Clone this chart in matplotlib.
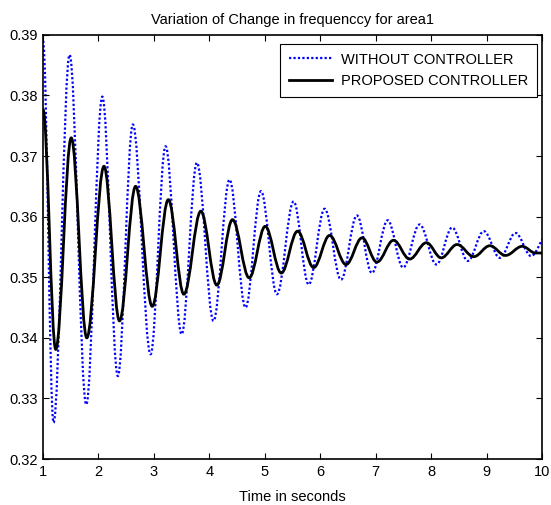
#!/usr/bin/env python3

import numpy as np
from matplotlib import pyplot as plt
from matplotlib.path import Path
from matplotlib.patches import PathPatch
from matplotlib.lines import Line2D

# * Data (peaks and troughs)

# Without controller (blue dotted)
blue_t = [1.00, 1.19, 1.48, 1.78, 2.07, 2.35, 2.62, 2.94, 3.21, 3.50, 3.775,
          4.074, 4.363, 4.652, 4.93, 5.218, 5.518, 5.79, 6.078, 6.373, 6.66,
          6.93, 7.215, 7.493, 7.79, 8.094, 8.377, 8.66, 8.948, 9.237, 9.52,
          9.80, 10.09]
blue_v = [0.389, 0.326, 0.3867, 0.329, 0.3798, 0.3337, 0.3752, 0.3373, 0.3716,
          0.3406, 0.3689, 0.3428, 0.3661, 0.3450, 0.3642, 0.3472, 0.3625,
          0.3488, 0.3613, 0.3496, 0.3602, 0.3507, 0.3594, 0.3516, 0.3587,
          0.3521, 0.3582, 0.3527, 0.3576, 0.3532, 0.3573, 0.3535, 0.3570]

# Proposed controller (black solid)
black_t = [1.00, 1.23, 1.51, 1.79, 2.10, 2.38, 2.67, 2.97, 3.26, 3.54, 3.846,
           4.135, 4.417, 4.718, 5.007, 5.296, 5.59, 5.88, 6.168, 6.464, 6.753,
           7.02, 7.32, 7.61, 7.913, 8.18, 8.467, 8.767, 9.056, 9.34, 9.64,
           9.88, 10.0]
black_v = [0.3777, 0.3381, 0.373, 0.340, 0.3683, 0.3428, 0.365, 0.3452,
           0.3628, 0.3472, 0.3609, 0.3487, 0.3595, 0.3499, 0.3584, 0.3507,
           0.3576, 0.3516, 0.3569, 0.3521, 0.3565, 0.3525, 0.3561, 0.3530,
           0.3557, 0.3532, 0.3554, 0.3534, 0.3552, 0.3536, 0.3551, 0.3540,
           0.3540]

labels = ['WITHOUT CONTROLLER', 'PROPOSED CONTROLLER']
xticks = list(range(1, 11))
yticks = [0.32, 0.33, 0.34, 0.35, 0.36, 0.37, 0.38, 0.39]

# * Plotting

def smooth_path(t, v, k=0.364):
    """Bezier path through the extrema, flat at each one."""
    verts = [(t[0], v[0])]
    codes = [Path.MOVETO]
    for i in range(len(t) - 1):
        dt = t[i + 1] - t[i]
        verts += [(t[i] + k * dt, v[i]), (t[i + 1] - k * dt, v[i + 1]),
                  (t[i + 1], v[i + 1])]
        codes += [Path.CURVE4] * 3
    return Path(verts, codes)


plt.rcParams['font.family'] = ['Liberation Sans', 'DejaVu Sans']
plt.rcParams['font.size'] = 10.5

fig = plt.figure(figsize=(5.51, 5.05), dpi=100)
ax = fig.add_axes([0.078, 0.091, 0.906, 0.840])

blue_style = dict(color='#0000ff', lw=1.6, ls=(0, (1, 1)))
black_style = dict(color='black', lw=2.0, ls='-')

ax.add_patch(PathPatch(smooth_path(blue_t, blue_v), facecolor='none',
                       edgecolor=blue_style['color'], lw=blue_style['lw'],
                       linestyle=blue_style['ls']))
ax.add_patch(PathPatch(smooth_path(black_t, black_v), facecolor='none',
                       edgecolor=black_style['color'], lw=black_style['lw'],
                       linestyle=black_style['ls']))

ax.set_xlim(1, 10)
ax.set_ylim(0.32, 0.39)
ax.set_xticks(xticks)
ax.set_yticks(yticks)
ax.set_yticklabels(['%.2f' % y for y in yticks])
ax.tick_params(direction='in', top=True, right=True, length=4, width=0.8,
               pad=4)
for s in ax.spines.values():
    s.set_linewidth(1.2)

ax.set_title('Variation of Change in frequenccy for area1', fontsize=10.5,
             pad=8)
ax.set_xlabel('Time in seconds', labelpad=8)

handles = [Line2D([], [], **blue_style), Line2D([], [], **black_style)]
leg = ax.legend(handles, labels, loc='upper right',
                bbox_to_anchor=(0.99, 0.979), borderaxespad=0,
                fancybox=False, framealpha=1, edgecolor='black',
                handlelength=3.0, handletextpad=0.6, labelspacing=0.5,
                borderpad=0.6)
leg.get_frame().set_linewidth(0.8)

fig.savefig('out.png', dpi=100)
